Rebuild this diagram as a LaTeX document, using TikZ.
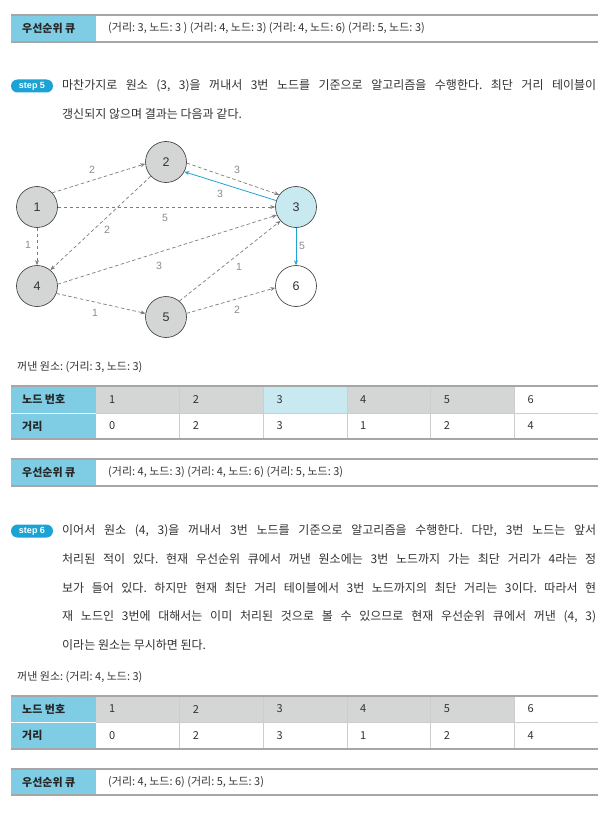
\documentclass[tikz,border=0pt]{standalone}
\usepackage{fontspec}
\setmainfont{Noto Sans CJK KR}
\newfontfamily\numfont{Liberation Sans}
\usetikzlibrary{arrows.meta}
\frenchspacing
\definecolor{hdrblue}{HTML}{7FCDE5}
\definecolor{cellgray}{HTML}{D4D5D5}
\definecolor{celllight}{HTML}{C9E9F1}
\definecolor{badgeblue}{HTML}{1BA3D6}
\definecolor{rulegray}{HTML}{A6A6A6}
\definecolor{sepgray}{HTML}{CDCDCD}
\definecolor{txt}{HTML}{333333}
\definecolor{edgegray}{HTML}{7D7D7D}
\definecolor{lblgray}{HTML}{8C8C8C}
\definecolor{bluearrow}{HTML}{1FA5D3}
\tikzset{
  gnode/.style={circle, draw=txt, line width=0.6pt, minimum size=41pt, inner sep=0pt,
    font=\numfont\fontsize{12.5}{14}\selectfont, text=txt},
  dedge/.style={draw=edgegray, line width=0.7pt, dash pattern=on 3.5pt off 2.5pt,
    -{Stealth[length=5pt,width=4pt]}},
  bedge/.style={draw=bluearrow, line width=0.8pt, -{Stealth[length=5pt,width=4pt]}},
  elabel/.style={font=\numfont\fontsize{10.5}{12}\selectfont, text=lblgray, inner sep=0pt},
  para/.style={anchor=west, inner sep=0pt, font=\fontsize{12}{14}\selectfont, text=txt},
  badgebox/.style={fill=badgeblue, rounded corners=6.5pt, minimum width=42pt,
    minimum height=13pt, inner sep=0pt, text=white,
    font=\numfont\bfseries\fontsize{9}{10}\selectfont},
  celltxt/.style={anchor=west, inner sep=0pt, font=\fontsize{11}{13}\selectfont, text=txt},
  hdrtxt/.style={anchor=west, inner sep=0pt, font=\bfseries\fontsize{11}{13}\selectfont, text=black!85},
}
% queue bar: #1 name, #2 top, #3 middle, #4 bottom, #5 text
\newcommand\qbar[5]{%
  \fill[hdrblue] (11,#2) rectangle (96,#4);
  \draw[rulegray, line width=1.1pt] (11,#2) -- (598,#2);
  \draw[rulegray, line width=1.1pt] (11,#4) -- (598,#4);
  \node[hdrtxt] (#1h) at (22,#3) {우선순위 큐};
  \node[celltxt] (#1t) at (108,#3) {#5};
}
% distance table: #1 prefix, #2 top, #3 mid, #4 bottom, #5 highlighted column
\newcommand\drawtbl[5]{%
  \fill[hdrblue] (11,#2) rectangle (96,#4);
  \foreach \i in {1,...,6} {
    \pgfmathsetmacro\xa{96+83.67*(\i-1)}
    \pgfmathsetmacro\xb{96+83.67*\i}
    \ifnum\i=#5 \def\cc{celllight}\else\ifnum\i=6 \def\cc{white}\else\def\cc{cellgray}\fi\fi
    \fill[\cc] (\xa,#2) rectangle (\xb,#3);
  }
  \draw[white, line width=1pt] (11,#3) -- (96,#3);
  \draw[sepgray, line width=0.8pt] (96,#3) -- (598,#3);
  \foreach \i in {1,...,5} {
    \pgfmathsetmacro\xa{96+83.67*\i}
    \draw[sepgray, line width=0.8pt] (\xa,#2) -- (\xa,#4);
  }
  \draw[rulegray, line width=1.1pt] (11,#2) -- (598,#2);
  \draw[rulegray, line width=1.1pt] (11,#4) -- (598,#4);
  \pgfmathsetmacro\ya{(#2+#3)/2}
  \pgfmathsetmacro\yb{(#3+#4)/2}
  \node[hdrtxt] (#1hn) at (22,\ya) {노드 번호};
  \node[hdrtxt] (#1hd) at (22,\yb) {거리};
  \foreach \i/\v in {1/0,2/2,3/3,4/1,5/2,6/4} {
    \pgfmathsetmacro\xa{96+83.67*(\i-1)+13}
    \node[celltxt] (#1n\i) at (\xa,\ya) {\i};
    \node[celltxt] (#1d\i) at (\xa,\yb) {\v};
  }
}
\begin{document}
\begin{tikzpicture}[x=1pt,y=-1pt]
\useasboundingbox (0,0) rectangle (612,821);
\fill[white] (0,0) rectangle (612,821);

% top queue
\qbar{q1}{15}{28.5}{42}{(거리: 3, 노드: 3 ) (거리: 4, 노드: 3) (거리: 4, 노드: 6) (거리: 5, 노드: 3)}

% step 5
\node[badgebox] (b5) at (32,86) {step 5};
\node[para] (s5a) at (62,86) {\makebox[534pt][s]{마찬가지로 원소 (3, 3)을 꺼내서 3번 노드를 기준으로 알고리즘을 수행한다. 최단 거리 테이블이}};
\node[para] (s5b) at (62,114) {갱신되지 않으며 결과는 다음과 같다.};

% graph
\node[gnode, fill=cellgray] (n1) at (37,207) {1};
\node[gnode, fill=cellgray] (n2) at (166,162) {2};
\node[gnode, fill=celllight] (n3) at (296,207) {3};
\node[gnode, fill=cellgray] (n4) at (37,286) {4};
\node[gnode, fill=cellgray] (n5) at (166,317) {5};
\node[gnode, fill=white] (n6) at (296,286) {6};

\draw[dedge] (n1.43) -- (n2.185);
\draw[dedge] (n2.-3) -- (n3.144);
\draw[bedge] (n3.162) -- (n2.-28);
\draw[dedge] (n1.east) -- (n3.west);
\draw[dedge] (n1.south) -- (n4.north);
\draw[dedge] (n2.-137) -- (n4.50);
\draw[dedge] (n4.5) -- (n3.203);
\draw[dedge] (n5.50) -- (n3.222);
\draw[dedge] (n4.-21) -- (n5.170);
\draw[dedge] (n5.10) -- (n6.185);
\draw[bedge] (n3.south) -- (n6.north);

\node[elabel] (l12) at (92,170) {2};
\node[elabel] (l23) at (237,170) {3};
\node[elabel] (l32) at (220,194) {3};
\node[elabel] (l13) at (165,218) {5};
\node[elabel] (l14) at (28,245) {1};
\node[elabel] (l24) at (107,230) {2};
\node[elabel] (l43) at (159,266) {3};
\node[elabel] (l53) at (239,267) {1};
\node[elabel] (l36) at (302,246) {5};
\node[elabel] (l45) at (95,313) {1};
\node[elabel] (l56) at (237,310) {2};

% popped element + table (step 5)
\node[celltxt] (p5) at (17,367) {꺼낸 원소: (거리: 3, 노드: 3)};
\drawtbl{t5}{386}{413}{439}{3}
\qbar{q2}{459}{472.5}{486}{(거리: 4, 노드: 3) (거리: 4, 노드: 6) (거리: 5, 노드: 3)}

% step 6
\node[badgebox] (b6) at (32,531) {step 6};
\node[para] (s6a) at (62,531) {\makebox[534pt][s]{이어서 원소 (4, 3)을 꺼내서 3번 노드를 기준으로 알고리즘을 수행한다. 다만, 3번 노드는 앞서}};
\node[para] (s6b) at (62,559.5) {\makebox[534pt][s]{처리된 적이 있다. 현재 우선순위 큐에서 꺼낸 원소에는 3번 노드까지 가는 최단 거리가 4라는 정}};
\node[para] (s6c) at (62,588) {\makebox[534pt][s]{보가 들어 있다. 하지만 현재 최단 거리 테이블에서 3번 노드까지의 최단 거리는 3이다. 따라서 현}};
\node[para] (s6d) at (62,616.5) {\makebox[534pt][s]{재 노드인 3번에 대해서는 이미 처리된 것으로 볼 수 있으므로 현재 우선순위 큐에서 꺼낸 (4, 3)}};
\node[para] (s6e) at (62,645) {이라는 원소는 무시하면 된다.};

% popped element + table (step 6)
\node[celltxt] (p6) at (17,677) {꺼낸 원소: (거리: 4, 노드: 3)};
\drawtbl{t6}{696}{722}{749}{0}
\qbar{q3}{769}{782}{795}{(거리: 4, 노드: 6) (거리: 5, 노드: 3)}
\end{tikzpicture}
\end{document}
